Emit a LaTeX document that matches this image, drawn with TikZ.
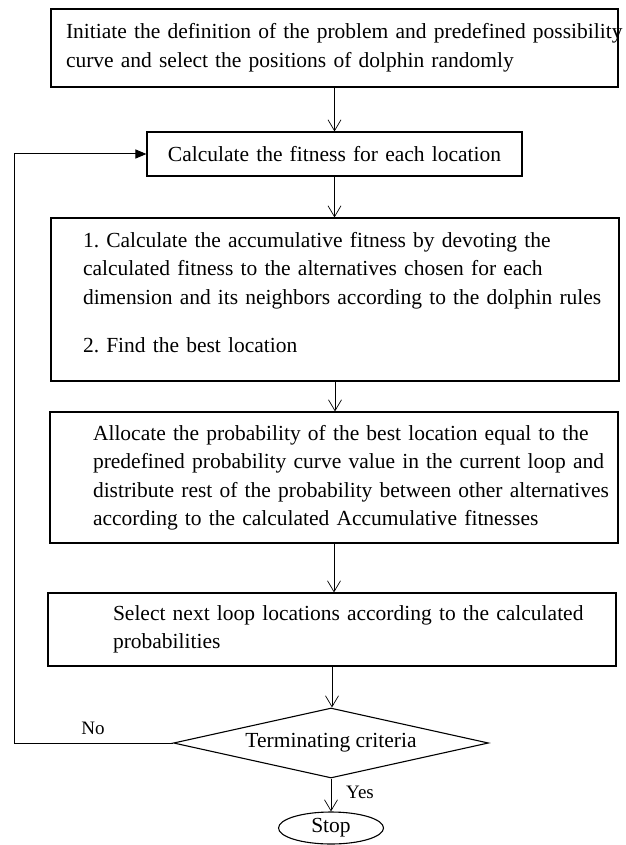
\documentclass[tikz,border=0pt]{standalone}
\usepackage{fontspec}
\setmainfont{Liberation Serif}
\usetikzlibrary{arrows.meta,shapes.geometric}
\begin{document}
\begin{tikzpicture}[x=1pt,y=-1pt,
  proc/.style={draw, line width=1.1pt, inner sep=0pt, align=left, font=\fontsize{21.5}{28.5}\selectfont\frenchspacing},
  flow/.style={line width=0.7pt, -{Straight Barb[length=11pt,width=13pt]}},
  back/.style={line width=1pt, -{Triangle[length=11pt,width=9pt]}},
  lbl/.style={inner sep=0pt, font=\fontsize{19}{22}\selectfont}]
\useasboundingbox (0,0) rectangle (625,845);
\node[proc, text width=567pt, minimum height=78pt] (b1) at (334.5,48)
  {\leftskip=15pt\rightskip=-30pt plus 1fil Initiate the definition of the problem and predefined possibility\\curve and select the positions of dolphin randomly\par};
\node[proc, align=center, text width=375pt, minimum height=44pt] (b2) at (334.5,154)
  {Calculate the fitness for each location};
\node[proc, text width=568pt, minimum height=163pt] (b3) at (335,299.5)
  {\leftskip=32pt\rightskip=-30pt plus 1fil 1. Calculate the accumulative fitness by devoting the\\calculated fitness to the alternatives chosen for each\\dimension and its neighbors according to the dolphin rules\\[19.5pt]2. Find the best location\par\kern14pt};
\node[proc, text width=568pt, minimum height=131pt] (b4) at (334,477.5)
  {\leftskip=43pt\rightskip=-30pt plus 1fil Allocate the probability of the best location equal to the\\predefined probability curve value in the current loop and\\distribute rest of the probability between other alternatives\\according to the calculated Accumulative fitnesses\par};
\node[proc, text width=568pt, minimum height=73pt] (b5) at (332,629.5)
  {\leftskip=65pt\rightskip=-30pt plus 1fil Select next loop locations according to the calculated\\probabilities\par};
\node[draw, diamond, aspect=4.5, line width=1.1pt, inner sep=0pt, minimum width=315pt, minimum height=70pt,
  font=\fontsize{21.5}{28.5}\selectfont] (d) at (331,743) {Terminating criteria};
\node[draw, ellipse, line width=1.1pt, inner sep=0pt, minimum width=105pt, minimum height=32pt,
  font=\fontsize{21.5}{28.5}\selectfont] (stop) at (331,828) {Stop};
\coordinate (lx) at (14,744);
\draw[flow] (b1.south) -- (b1.south |- b2.north);
\draw[flow] (b2.south) -- (b2.south |- b3.north);
\draw[flow] (b3.south) -- (b3.south |- b4.north);
\draw[flow] (b4.south) -- (b4.south |- b5.north);
\draw[flow] (b5.south) -- (b5.south |- d.north);
\draw[flow] (d.south) -- (stop.north);
\draw[back] (d.west) -- (d.west -| lx) -- (lx |- b2.west) -- (b2.west);
\node[lbl] (no) at (93,728) {No};
\node[lbl] (yes) at (360,792) {Yes};
\end{tikzpicture}
\end{document}
